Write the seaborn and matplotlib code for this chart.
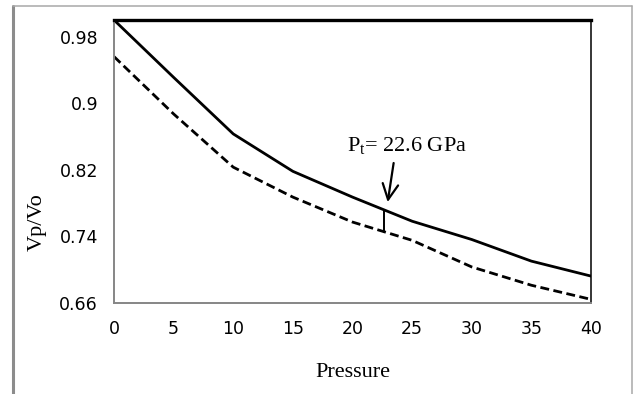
import matplotlib
matplotlib.use("Agg")
import matplotlib.pyplot as plt
from matplotlib.lines import Line2D
import seaborn as sns
import pandas as pd

# ---- data ----
pressure = [0, 5, 10, 15, 20, 25, 30, 35, 40]
vp_solid = [1.000, 0.931, 0.863, 0.818, 0.787, 0.758, 0.736, 0.710, 0.692]
vp_dashed = [0.956, 0.887, 0.823, 0.787, 0.757, 0.735, 0.703, 0.681, 0.664]
transition_p = 22.6
transition_lo = 0.745
transition_hi = 0.772
annot_text = "P$_\\mathrm{t}$= 22.6 GPa"
yticks = [0.66, 0.74, 0.82, 0.90, 0.98]
ytick_labels = ["0.66", "0.74", "0.82", "0.9", "0.98"]
xticks = [0, 5, 10, 15, 20, 25, 30, 35, 40]

df = pd.DataFrame({
    "Pressure": pressure * 2,
    "ratio": vp_solid + vp_dashed,
    "series": ["solid"] * len(pressure) + ["dashed"] * len(pressure),
})

sns.set_style("white")
plt.rcParams["text.color"] = "black"
plt.rcParams["axes.labelcolor"] = "black"
plt.rcParams["mathtext.fontset"] = "custom"
plt.rcParams["mathtext.rm"] = "Liberation Serif"
plt.rcParams["mathtext.it"] = "Liberation Serif:italic"

fig = plt.figure(figsize=(6.34, 3.94), dpi=100)
ax = fig.add_axes([114 / 634, 1 - 302.7 / 394, (591 - 114) / 634, (302.7 - 20) / 394])

sns.lineplot(data=df, x="Pressure", y="ratio", style="series",
             dashes={"solid": "", "dashed": (3.2, 1.6)},
             color="black", linewidth=2.0, legend=False, ax=ax)

ax.plot([transition_p, transition_p], [transition_lo, transition_hi],
        color="black", lw=1.4)

ax.annotate("", xy=(22.95, 0.781), xytext=(23.45, 0.828),
            arrowprops=dict(arrowstyle="->", lw=1.6, color="black",
                            mutation_scale=28, shrinkA=0, shrinkB=0))
ax.text(19.5, 0.843, annot_text, fontsize=16, family="Liberation Serif",
        color="black", ha="left", va="baseline")

ax.set_xlim(0, 40)
ax.set_ylim(0.66, 1.0)
ax.set_xticks(xticks)
ax.set_xticklabels([str(x) for x in xticks])
ax.set_yticks(yticks)
ax.set_yticklabels(ytick_labels)

gray = "#868686"
for s in ["left", "bottom"]:
    ax.spines[s].set_color(gray)
    ax.spines[s].set_linewidth(1.4)
ax.spines["top"].set_color("black")
ax.spines["top"].set_linewidth(2.4)
ax.spines["right"].set_color("black")
ax.spines["right"].set_linewidth(1.1)

ax.tick_params(axis="both", direction="out", length=5, width=1.2, color=gray,
               labelsize=12.5, labelcolor="black")
ax.tick_params(axis="x", pad=7.5)
ax.tick_params(axis="y", pad=6.5)
for lab in ax.get_xticklabels() + ax.get_yticklabels():
    lab.set_family("DejaVu Sans")

ax.set_xlabel("Pressure", fontsize=16, family="Liberation Serif", color="black")
ax.xaxis.label.set_va("baseline")
ax.xaxis.set_label_coords(0.5, (302.7 - 377) / 282.7)
ax.set_ylabel("Vp/Vo", fontsize=16, family="Liberation Serif", color="black")
ax.yaxis.set_label_coords((47 - 114) / 477, (302.7 - 222) / 282.7)

# outer chart frame
fig.add_artist(Line2D([12.5 / 634, 12.5 / 634], [1 - 6 / 394, 0], color="#8c8c8c", lw=2.2))
fig.add_artist(Line2D([12.5 / 634, 632 / 634], [1 - 6 / 394, 1 - 6 / 394], color="#a8a8a8", lw=1.1))
fig.add_artist(Line2D([632 / 634, 632 / 634], [1 - 6 / 394, 0], color="#a8a8a8", lw=1.1))

fig.savefig("out.png", dpi=100)
